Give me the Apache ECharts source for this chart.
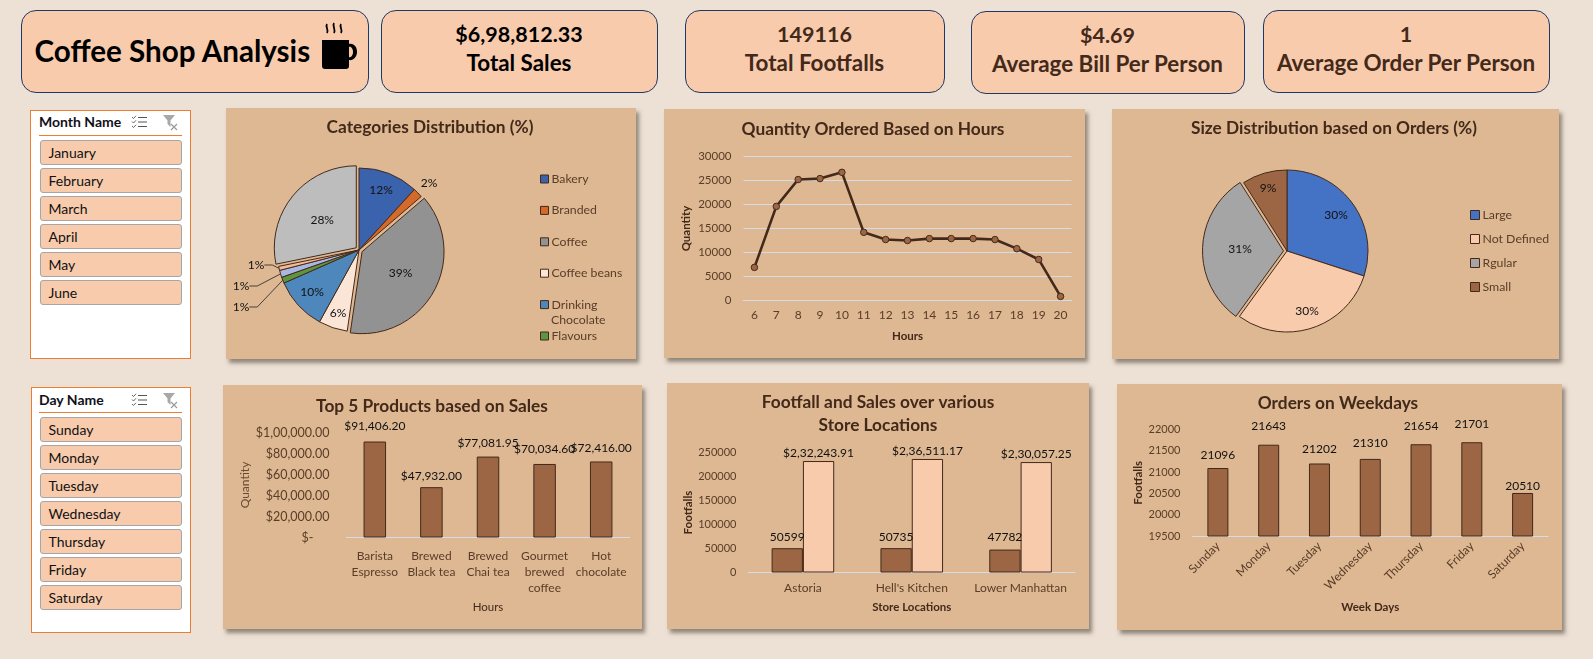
<!DOCTYPE html>
<html><head><meta charset="utf-8">
<script src="https://cdn.jsdelivr.net/npm/echarts@6/dist/echarts.min.js"></script>
<style>
html,body{margin:0;padding:0;background:#EDE0D4;width:1593px;height:659px;overflow:hidden;font-family:Lato,"Open Sans",sans-serif}
.abs{position:absolute;box-sizing:border-box}
.card{background:#F8CBAD;border:1px solid #1F3864;border-radius:15px;text-align:center;color:#43291A;font-weight:700;font-size:22.4px}
.card div{position:absolute;left:0;right:0;line-height:26px}
.panel{background:#DDB892;box-shadow:3px 4px 4px rgba(70,60,50,.55)}
.slicer{background:#fff;border:1px solid #ED7D31}
.hdr{font-weight:700;font-size:14px;color:#10101a;line-height:18px}
.btn{background:#F8CBAD;border:1px solid #A6A6A6;border-radius:3px;font-size:14px;color:#111;line-height:23px;padding-left:8px}
#chart{position:absolute;left:0;top:0;width:1593px;height:659px}
</style></head><body>
<div id="ui"></div>
<div id="chart"></div>
<script>
// ---------- values ----------
const kpiValues = ['$6,98,812.33','149116','$4.69','1'];
const kpiNames = ['Total Sales','Total Footfalls','Average Bill Per Person','Average Order Per Person'];
const months = ['January','February','March','April','May','June'];
const days = ['Sunday','Monday','Tuesday','Wednesday','Thursday','Friday','Saturday'];

const categoryNames = ['Bakery','Branded','Coffee','Coffee beans','Drinking Chocolate','Flavours','Loose Tea','Packaged Chocolate','Tea'];
const categoryShares = [11.8,1.9,38.6,5.7,10.4,1.2,1.4,0.8,28.2];

const hours = ['6','7','8','9','10','11','12','13','14','15','16','17','18','19','20'];
const hourQuantity = [6900,19600,25200,25400,26700,14200,12700,12500,12900,12900,12900,12700,10800,8550,850];

const sizeNames = ['Large','Not Defined','Rgular','Small'];
const sizeShares = [30,30,31,9];

const productNames = ['Barista\nEspresso','Brewed\nBlack tea','Brewed\nChai tea','Gourmet\nbrewed\ncoffee','Hot\nchocolate'];
const productSales = [91406.20,47932.00,77081.95,70034.60,72416.00];

const storeNames = ['Astoria',"Hell's Kitchen",'Lower Manhattan'];
const storeFootfalls = [50599,50735,47782];
const storeSales = [232243.91,236511.17,230057.25];

const weekdayOrders = [21096,21643,21202,21310,21654,21701,20510];

// ---------- page furniture ----------
const ui = document.getElementById('ui');
function el(cls, x, y, w, h, html, extra){
  const d = document.createElement('div');
  d.className = 'abs ' + cls;
  d.style.cssText = `left:${x}px;top:${y}px;width:${w}px;height:${h}px;` + (extra||'');
  d.innerHTML = html || '';
  ui.appendChild(d);
  return d;
}
el('card',20.5,10,348,83,`<div style="top:22px;left:13px;right:auto;font-size:29.6px;line-height:36px;color:#000;white-space:nowrap">Coffee Shop Analysis</div>
<svg style="position:absolute;left:297px;top:11px" width="40" height="48" viewBox="0 0 40 48">
<path d="M3 18h27v4c5-1 8 3 8 8s-4 9-8 8v6q0 3-3 3H6q-3 0-3-3z" fill="#000"/>
<path d="M30 25c2-1 4 2 4 5s-2 6-4 5z" fill="#F8CBAD"/>
<path d="M8 2c-2 3 2 5 0 9M15 1c-2 3 2 6 0 10M22 2c-2 3 2 5 0 9" fill="none" stroke="#000" stroke-width="1.8"/></svg>`);
const cardBoxes = [[380.5,10,277,83,'#000'],[684.5,10,260,83],[970.5,11,274,83],[1262.5,10,287,83]];
cardBoxes.forEach((b,i)=>{
  el('card',b[0],b[1],b[2],b[3],`<div style="top:10px;font-size:21.5px">${kpiValues[i]}</div><div style="top:39px">${kpiNames[i]}</div>`,b[4]?`color:${b[4]}`:'');
});
const iconList = `<svg style="position:absolute;left:100px;top:5px" width="17" height="14" viewBox="0 0 17 14" fill="none" stroke="#555"><path d="M7 2.5h9M7 7h9M7 11.5h9" stroke-width="1.1"/><path d="M1 2l1.5 1.5L5 .8M1 6.5L2.5 8 5 5.3M1 11l1.5 1.5L5 9.8" stroke-width=".9"/></svg>
<svg style="position:absolute;left:131px;top:5px" width="18" height="16" viewBox="0 0 18 16"><path d="M1 0h12L8.5 5.5V12L5.5 9V5.5z" fill="#A8A8A8"/><path d="M9 9l6 6M15 9l-6 6" stroke="#999" stroke-width="1.2"/></svg>`;
function slicer(x,y,w,h,name,items,hdrY,lineY,btnY){
  el('slicer',x,y,w,h,'');
  el('',x,y,w,26,`<div style="position:absolute;left:${39-x}px;top:${hdrY-y-9}px" class="hdr">${name}</div>`+iconList.replace('left:100px','left:'+(131-x)+'px').replace('left:131px','left:'+(162-x)+'px').replace(/top:5px/g,'top:'+(hdrY-y-7)+'px'));
  el('',39,lineY,143,1,'','background:#ED7D31');
  items.forEach((t,i)=>el('btn',39.5,btnY+i*28,142,24.5,t));
}
slicer(30,109.5,161,249.5,'Month Name',months,122,135,140.3);
slicer(31,386.5,160,246.5,'Day Name',days,399.5,412,417.3);
[[225.5,107.5,410,251],[663.5,109,421.5,249],[1111.5,108.5,447.5,250],
 [222.5,385,419.5,243.5],[666.5,382.5,422,246],[1116.5,383.5,445.5,246]].forEach(b=>el('panel',b[0],b[1],b[2],b[3]));

// ---------- helpers ----------
function inrGroup(v, dec){
  const s = v.toFixed(dec).split('.');
  let a = s[0];
  if (a.length > 3){
    const last = a.slice(-3); a = a.slice(0,-3).replace(/\B(?=(\d{2})+(?!\d))/g,',') + ',' + last;
  }
  return '$' + a + (dec ? '.' + s[1] : '');
}
const FONT = 'Lato';
const TITLE = '#43291A', TXT = '#5A3D28', OUT = '#43291A', AXIS = '#D6DCE5', GRIDC = '#D6DCE5';
const BROWN = '#9C6644', PEACH = '#F8CBAD';
const mkTitle = (text,x,y)=>({text,left:x,top:y,textAlign:'center',padding:0,
  textStyle:{fontFamily:FONT,fontSize:17.3,fontWeight:700,color:TITLE,lineHeight:23}});
const catAxis = (idx,data,name,gap,bold,extra)=>Object.assign({type:'category',gridIndex:idx,data,name,nameLocation:'middle',nameGap:gap,
  nameTextStyle:{fontFamily:FONT,fontSize:11.5,fontWeight:bold?700:400,color:TITLE},
  axisLine:{lineStyle:{color:AXIS,width:1.2}},axisTick:{show:false},
  axisLabel:{interval:0,fontFamily:FONT,fontSize:12,color:TXT,margin:8,lineHeight:16}},extra||{});
const valAxis = (idx,min,max,interval,name,gap,bold,fmt,margin,size,color,gridShow)=>({type:'value',gridIndex:idx,min,max,interval,name,nameLocation:'middle',nameGap:gap,
  nameRotate:90,nameTextStyle:{fontFamily:FONT,fontSize:color?12:11.5,fontWeight:bold?700:400,color:color||TITLE},
  axisLine:{show:false},axisTick:{show:false},splitLine:{show:!!gridShow,lineStyle:{color:GRIDC,width:1}},
  axisLabel:{fontFamily:FONT,fontSize:size,color:TXT,margin:margin||12,formatter:fmt}});
const lifted = (vals,lift)=>vals.map((v,i)=>({value:v,label:{offset:[0,-lift[i]]}}));
const barLabel = (fmt,size)=>({show:true,position:'top',distance:2,fontFamily:FONT,fontSize:size,color:'#111',formatter:fmt});
const barStyle = c=>({color:c,borderColor:OUT,borderWidth:1});

// label anchors for pie slices, following the reference's hand-placed labels
const catLabelAt = [[381,190],[429,183],[417,284],[338,313],[312,292],[241,307],[241,286],[256,265],[307,209]];
const sizeLabelAt = [[1336,215],[1307,311],[1218,250],[1268,188]];
const catPalette = ['#3A62AD','#D4692A','#929292','#FBE5D6','#4E87BB','#5F9440','#A9B8E3','#F4B997','#BDBDBD'];
const sizePalette = ['#4472C4','#F8CBAD','#A5A5A5','#9C6644'];
const catPopped = ['Coffee','Tea'];
const sizePopped = ['Rgular'];
const smallSlices = ['Flavours','Loose Tea','Packaged Chocolate'];
const legendBase = {orient:'vertical',icon:'rect',itemWidth:8,itemHeight:8,padding:0,selectedMode:false,
  itemStyle:{borderColor:OUT,borderWidth:1},
  textStyle:{fontFamily:FONT,fontSize:12.3,color:TXT,lineHeight:14,padding:[0,0,0,-2]}};
const pieBase = (center,r,labelAt)=>({type:'pie',center,radius:r,startAngle:90,clockwise:true,selectedMode:'multiple',selectedOffset:3.5,
  avoidLabelOverlap:false,
  itemStyle:{borderColor:OUT,borderWidth:1},
  label:{show:true,position:'inside',fontFamily:FONT,fontSize:12,color:'#111',formatter:p=>Math.round(p.value)+'%'},
  labelLine:{show:false},
  labelLayout:p=>({x:labelAt[p.dataIndex][0],y:labelAt[p.dataIndex][1],align:'center',verticalAlign:'middle'})});

const option = {
  animation:false,backgroundColor:'transparent',
  title:[
    mkTitle('Categories Distribution (%)',430,116),
    mkTitle('Quantity Ordered Based on Hours',873,118),
    mkTitle('Size Distribution based on Orders (%)',1334,117),
    mkTitle('Top 5 Products based on Sales',432,395),
    mkTitle('Footfall and Sales over various\nStore Locations',878,391),
    mkTitle('Orders on Weekdays',1338,392)
  ],
  legend:[
    Object.assign({},legendBase,{left:540,top:172,itemGap:17.4,data:categoryNames.slice(0,5),
      formatter:n=>n.split(' ')[0]==='Drinking'?'Drinking':n}),
    Object.assign({},legendBase,{left:540,top:329,data:['Flavours']}),
    Object.assign({},legendBase,{left:1470,top:208,itemGap:10,itemWidth:9,itemHeight:9,data:sizeNames})
  ],
  graphic:[{type:'text',left:551,top:314,silent:true,style:{text:'Chocolate',font:'12.3px '+FONT,fill:TXT}}],
  grid:[
    {left:743.5,top:156.5,width:328,height:144},
    {left:346.5,top:432.5,width:283,height:105},
    {left:748.5,top:452.5,width:326.5,height:120},
    {left:1192.5,top:429.5,width:355.5,height:106.5}
  ],
  xAxis:[
    catAxis(0,hours,'Hours',30,true,{axisLabel:{interval:0,fontFamily:FONT,fontSize:12,color:TXT,margin:9}}),
    catAxis(1,productNames,'Hours',64,false,{axisLabel:{interval:0,fontFamily:FONT,fontSize:12,color:TXT,margin:11,lineHeight:16}}),
    catAxis(2,storeNames,'Store Locations',29,true),
    catAxis(3,days,'Week Days',65,true,{axisLabel:{interval:0,rotate:45,fontFamily:FONT,fontSize:12,color:TXT,margin:8}})
  ],
  yAxis:[
    valAxis(0,0,30000,5000,'Quantity',51,true,v=>String(v),12,11.5,null,true),
    valAxis(1,0,100000,20000,'Quantity',95,false,v=>v===0?'$-     ':inrGroup(v,2),17,12.5,'#6B4A33'),
    valAxis(2,0,250000,50000,'Footfalls',54,true,v=>String(v),12,11),
    valAxis(3,19500,22000,500,'Footfalls',46,true,v=>String(v),12,11)
  ],
  series:[
    Object.assign(pieBase([359,250],82,catLabelAt),{
      data:categoryNames.map((n,i)=>({name:n,value:categoryShares[i],selected:catPopped.includes(n),
        itemStyle:{color:catPalette[i]},
        label:{position:smallSlices.includes(n)?'outside':'inside'},
        labelLine:{show:smallSlices.includes(n),length:8,length2:8,lineStyle:{color:'#222',width:.8}}}))}),
    Object.assign(pieBase([1287,251],81,sizeLabelAt),{
      data:sizeNames.map((n,i)=>({name:n,value:sizeShares[i],selected:sizePopped.includes(n),itemStyle:{color:sizePalette[i]}}))}),
    {type:'line',xAxisIndex:0,yAxisIndex:0,data:hourQuantity,symbol:'circle',symbolSize:6.5,
      lineStyle:{color:'#43291A',width:2.6},itemStyle:{color:BROWN,borderColor:'#43291A',borderWidth:1}},
    {type:'bar',xAxisIndex:1,yAxisIndex:1,barWidth:22.5,itemStyle:barStyle(BROWN),
      label:barLabel(p=>inrGroup(p.value,2),12),data:lifted(productSales,[7.5,3.5,5.5,6.5,5.5])},
    {type:'bar',xAxisIndex:2,yAxisIndex:2,barWidth:31.3,barGap:0,itemStyle:barStyle(BROWN),
      label:barLabel(p=>String(p.value),12),data:lifted(storeFootfalls,[3,3,4])},
    {type:'bar',xAxisIndex:2,yAxisIndex:2,barWidth:31.3,barGap:0,itemStyle:barStyle(PEACH),
      label:barLabel(p=>inrGroup(p.value,2),12),data:lifted(storeSales,[0,0,0])},
    {type:'bar',xAxisIndex:3,yAxisIndex:3,barWidth:21,itemStyle:barStyle(BROWN),
      label:barLabel(p=>String(p.value),12),data:lifted(weekdayOrders,[4.5,10.5,6.5,7.5,10.5,10.5,-1.5])}
  ]
};
echarts.init(document.getElementById('chart')).setOption(option);
</script>
</body></html>
